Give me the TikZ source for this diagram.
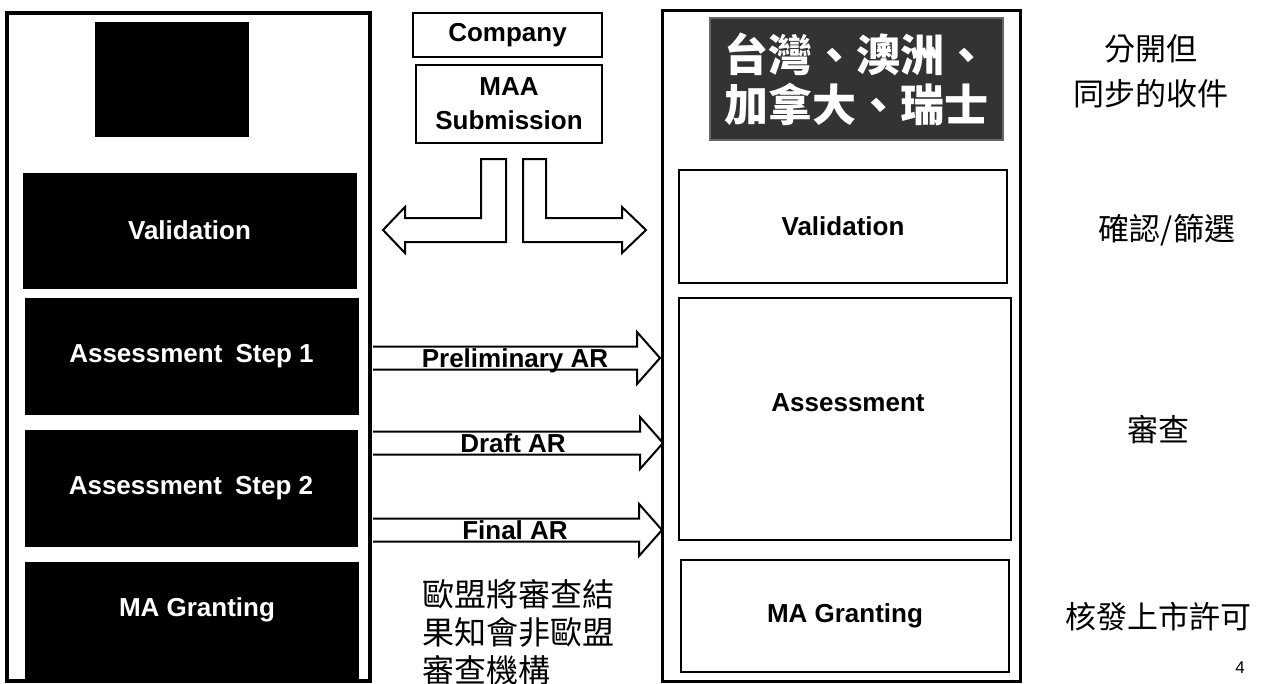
\documentclass[tikz,border=0pt]{standalone}
\usepackage{fontspec}
\setmainfont{Liberation Sans}
\newfontfamily\cjk{Noto Sans CJK TC}
\newcommand\harrowshape[3]{% x start, x tip, y centre
  \draw[barrow] (#1,#3-11.5) -- (#2-23,#3-11.5) -- (#2-23,#3-26) -- (#2,#3)
    -- (#2-23,#3+26) -- (#2-23,#3+11.5) -- (#1,#3+11.5);}
\begin{document}
\begin{tikzpicture}[x=1pt,y=-1pt,
  outer/.style={draw, line width=3.5pt, inner sep=0pt},
  blk/.style={fill=black, draw=black, inner sep=0pt, text=white, font=\bfseries\fontsize{26}{30}\selectfont},
  wbox/.style={draw, line width=2pt, fill=white, inner sep=0pt, font=\bfseries\fontsize{26}{34}\selectfont, align=center},
  barrow/.style={draw, line width=2pt, fill=white, line join=miter},
  lab/.style={font=\bfseries\fontsize{26}{30}\selectfont, inner sep=0pt},
  note/.style={font=\cjk\fontsize{31}{45}\selectfont, align=center, inner sep=0pt}]
\useasboundingbox (0,0) rectangle (1268,683);
% left column (EU)
\node[outer, minimum width=363, minimum height=668] (eu) at (188.5,347) {};
\node[blk, minimum width=153, minimum height=114] (eutop) at (171.5,79) {};
\node[blk, minimum width=333, minimum height=115] (val) at (189.5,230.5) {Validation};
\node[blk, minimum width=333, minimum height=116] (as1) at (191.5,356) {Assessment\hspace{6pt} Step 1\hspace{18pt}};
\node[blk, minimum width=332, minimum height=116] (as2) at (191,488) {Assessment\hspace{6pt} Step 2\hspace{18pt}};
\node[blk, minimum width=333, minimum height=116] (mag) at (191.5,620) {};
\node[lab, text=white] (magt) at (197,610) {MA Granting};
% middle
\node[wbox, minimum width=189, minimum height=44] (comp) at (507.5,35) {Company};
\node[wbox, minimum width=186, minimum height=78] (maa) at (509,104) {MAA\\Submission};
\draw[barrow] (481,159) -- (506,159) -- (506,242) -- (405,242) -- (405,253) -- (383,230)
  -- (405,207) -- (405,218) -- (481,218) -- cycle;
\draw[barrow] (523,159) -- (546,159) -- (546,218) -- (622,218) -- (622,207) -- (646,230)
  -- (622,253) -- (622,242) -- (523,242) -- cycle;
\harrowshape{373}{660}{358}
\harrowshape{373}{663}{443}
\harrowshape{373}{662}{530}
\node[lab, anchor=base] (pre) at (515,367) {Preliminary AR};
\node[lab, anchor=base] (dra) at (513,452) {Draft AR};
\node[lab, anchor=base] (fin) at (515,539) {Final AR};
\node[font=\cjk\fontsize{32}{38}\selectfont, align=left, inner sep=0pt, anchor=base west] (inform) at (422,682)
  {歐盟將審查結\\果知會非歐盟\\審查機構};
% right column (non-EU)
\node[outer, line width=3pt, minimum width=358, minimum height=671] (non) at (841,345.5) {};
\node[fill=black!80, draw=black!60, line width=1.5pt, minimum width=293, minimum height=122, inner sep=0pt,
  text=white, font=\cjk\bfseries\fontsize{44}{50}\selectfont, align=center] (ctry) at (856.5,79)
  {台灣、澳洲、\\加拿大、瑞士};
\node[wbox, minimum width=328, minimum height=113] (rval) at (843,226.5) {Validation};
\node[wbox, minimum width=332, minimum height=242] (rass) at (845,419) {};
\node[lab] (rasst) at (848,403) {Assessment};
\node[wbox, minimum width=328, minimum height=112] (rmag) at (845,616) {MA Granting};
% notes
\node[note] (n1) at (1151,71) {分開但\\同步的收件};
\node[note] (n2) at (1167,230) {確認/篩選};
\node[note] (n3) at (1158,430) {審查};
\node[note] (n4) at (1158,617) {核發上市許可};
\node[font=\fontsize{17}{20}\selectfont, inner sep=0pt] (pg) at (1240,668) {4};
\end{tikzpicture}
\end{document}
